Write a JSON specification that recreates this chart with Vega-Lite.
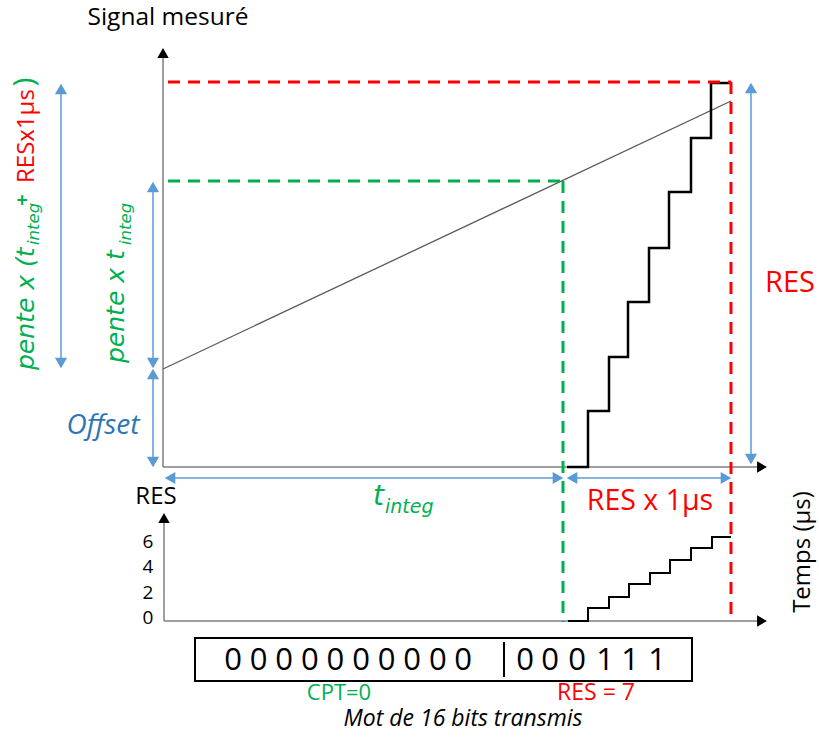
{
  "$schema": "https://vega.github.io/schema/vega-lite/v6.json",
  "width": 819,
  "height": 740,
  "padding": 0,
  "autosize": {"type": "none"},
  "config": {"view": {"stroke": null}, "font": "Open Sans"},
  "datasets": {
    "axes": [
      {"x": 163, "y": 467, "x2": 163, "y2": 56},
      {"x": 163, "y": 467, "x2": 760, "y2": 467},
      {"x": 164, "y": 621, "x2": 164, "y2": 520},
      {"x": 164, "y": 621, "x2": 760, "y2": 621}
    ],
    "blackUp": [{"x": 163, "y": 53}, {"x": 164, "y": 518}],
    "blackRight": [{"x": 762, "y": 467}, {"x": 762, "y": 621}],
    "redDash": [
      {"x": 168, "y": 82, "x2": 731, "y2": 82},
      {"x": 731, "y": 82, "x2": 731, "y2": 619}
    ],
    "greenDash": [
      {"x": 168, "y": 181, "x2": 563, "y2": 181},
      {"x": 563, "y": 181, "x2": 563, "y2": 622}
    ],
    "ramp": [{"x": 163, "y": 369, "x2": 731, "y2": 101}],
    "blueLines": [
      {"x": 61, "y": 88, "x2": 61, "y2": 364},
      {"x": 153, "y": 186, "x2": 153, "y2": 364},
      {"x": 153, "y": 374, "x2": 153, "y2": 463},
      {"x": 169, "y": 478, "x2": 559, "y2": 478},
      {"x": 571, "y": 478, "x2": 727, "y2": 478},
      {"x": 751, "y": 88, "x2": 751, "y2": 460}
    ],
    "blueUp": [{"x": 61, "y": 89}, {"x": 153, "y": 187}, {"x": 153, "y": 374}, {"x": 751, "y": 88}],
    "blueDown": [{"x": 61, "y": 363}, {"x": 153, "y": 363}, {"x": 153, "y": 462}, {"x": 751, "y": 459}],
    "blueLeft": [{"x": 170, "y": 478}, {"x": 572, "y": 478}],
    "blueRight": [{"x": 558, "y": 478}, {"x": 726, "y": 478}],
    "stairsMain": [
      {"i": 0, "x": 567, "y": 467}, {"i": 1, "x": 588, "y": 467},
      {"i": 2, "x": 588, "y": 411}, {"i": 3, "x": 609, "y": 411},
      {"i": 4, "x": 609, "y": 357}, {"i": 5, "x": 628, "y": 357},
      {"i": 6, "x": 628, "y": 302}, {"i": 7, "x": 649, "y": 302},
      {"i": 8, "x": 649, "y": 248}, {"i": 9, "x": 669, "y": 248},
      {"i": 10, "x": 669, "y": 192}, {"i": 11, "x": 691, "y": 192},
      {"i": 12, "x": 691, "y": 138}, {"i": 13, "x": 711, "y": 138},
      {"i": 14, "x": 711, "y": 83}, {"i": 15, "x": 732, "y": 83}
    ],
    "stairsLow": [
      {"i": 0, "x": 568, "y": 621}, {"i": 1, "x": 588, "y": 621},
      {"i": 2, "x": 588, "y": 608}, {"i": 3, "x": 609, "y": 608},
      {"i": 4, "x": 609, "y": 597}, {"i": 5, "x": 629, "y": 597},
      {"i": 6, "x": 629, "y": 584}, {"i": 7, "x": 650, "y": 584},
      {"i": 8, "x": 650, "y": 573}, {"i": 9, "x": 670, "y": 573},
      {"i": 10, "x": 670, "y": 560}, {"i": 11, "x": 691, "y": 560},
      {"i": 12, "x": 691, "y": 548}, {"i": 13, "x": 712, "y": 548},
      {"i": 14, "x": 712, "y": 537}, {"i": 15, "x": 731, "y": 537}
    ],
    "box": [{"x": 195, "y": 638, "x2": 692, "y2": 681}],
    "divider": [{"x": 504, "y": 642, "x2": 504, "y2": 677}],
    "digits": [
      {"x": 233, "y": 661, "label": "0"}, {"x": 258.6, "y": 661, "label": "0"},
      {"x": 284.2, "y": 661, "label": "0"}, {"x": 309.8, "y": 661, "label": "0"},
      {"x": 335.4, "y": 661, "label": "0"}, {"x": 361, "y": 661, "label": "0"},
      {"x": 386.6, "y": 661, "label": "0"}, {"x": 412.2, "y": 661, "label": "0"},
      {"x": 437.8, "y": 661, "label": "0"}, {"x": 463, "y": 661, "label": "0"},
      {"x": 525, "y": 661, "label": "0"}, {"x": 550, "y": 661, "label": "0"},
      {"x": 577, "y": 661, "label": "0"}, {"x": 605, "y": 661, "label": "1"},
      {"x": 630, "y": 661, "label": "1"}, {"x": 657, "y": 661, "label": "1"}
    ],
    "signalText": [{"x": 168, "y": 18, "label": "Signal mesuré"}],
    "resLow": [{"x": 156, "y": 497, "label": "RES"}],
    "ticks": [
      {"x": 148, "y": 542, "label": "6"}, {"x": 148, "y": 567, "label": "4"},
      {"x": 148, "y": 593, "label": "2"}, {"x": 148, "y": 618, "label": "0"}
    ],
    "tempsText": [{"x": 803, "y": 552, "label": "Temps (µs)"}],
    "redBig": [{"x": 790, "y": 283, "label": "RES"}],
    "redMid": [{"x": 650, "y": 501, "label": "RES x 1µs"}],
    "redSmall": [{"x": 596, "y": 693, "label": "RES = 7"}],
    "greenSmall": [{"x": 339, "y": 693, "label": "CPT=0"}],
    "offsetText": [{"x": 103, "y": 426, "label": "Offset"}],
    "motText": [{"x": 463, "y": 719, "label": "Mot de 16 bits transmis"}],
    "tBig": [{"x": 373, "y": 505, "label": "t"}],
    "tSub": [{"x": 385, "y": 513, "label": "integ"}],
    "rotGreenMain": [
      {"x": 34, "y": 370, "label": "pente x (t"},
      {"x": 124, "y": 363, "label": "pente x t"}
    ],
    "rotGreenSub": [
      {"x": 39, "y": 245, "label": "integ"},
      {"x": 131, "y": 245, "label": "integ"}
    ],
    "rotGreenSup": [{"x": 23, "y": 200, "label": "+"}],
    "rotParen": [{"x": 25, "y": 82, "label": ")"}],
    "rotRed": [{"x": 34, "y": 183, "label": "RESx1µs"}]
  },
  "encoding": {
    "x": {"field": "x", "type": "quantitative", "scale": {"domain": [0, 819], "nice": false, "zero": false}, "axis": null},
    "y": {"field": "y", "type": "quantitative", "scale": {"domain": [0, 740], "nice": false, "zero": false, "reverse": true}, "axis": null}
  },
  "layer": [
    {"data": {"name": "axes"}, "mark": {"type": "rule", "color": "#7f7f7f", "strokeWidth": 1.5},
     "encoding": {"x2": {"field": "x2"}, "y2": {"field": "y2"}}},
    {"data": {"name": "blackUp"}, "mark": {"type": "point", "shape": "triangle-up", "filled": true, "color": "#000000", "size": 130, "opacity": 1}},
    {"data": {"name": "blackRight"}, "mark": {"type": "point", "shape": "triangle-right", "filled": true, "color": "#000000", "size": 130, "opacity": 1}},
    {"data": {"name": "ramp"}, "mark": {"type": "rule", "color": "#595959", "strokeWidth": 1.3},
     "encoding": {"x2": {"field": "x2"}, "y2": {"field": "y2"}}},
    {"data": {"name": "greenDash"}, "mark": {"type": "rule", "color": "#00b050", "strokeWidth": 3, "strokeDash": [12, 8]},
     "encoding": {"x2": {"field": "x2"}, "y2": {"field": "y2"}}},
    {"data": {"name": "stairsMain"}, "mark": {"type": "line", "color": "#000000", "strokeWidth": 2.5, "strokeJoin": "miter"},
     "encoding": {"order": {"field": "i", "type": "quantitative"}}},
    {"data": {"name": "stairsLow"}, "mark": {"type": "line", "color": "#000000", "strokeWidth": 2, "strokeJoin": "miter"},
     "encoding": {"order": {"field": "i", "type": "quantitative"}}},
    {"data": {"name": "redDash"}, "mark": {"type": "rule", "color": "#ff0000", "strokeWidth": 3, "strokeDash": [12, 8]},
     "encoding": {"x2": {"field": "x2"}, "y2": {"field": "y2"}}},
    {"data": {"name": "blueLines"}, "mark": {"type": "rule", "color": "#5b9bd5", "strokeWidth": 1.5},
     "encoding": {"x2": {"field": "x2"}, "y2": {"field": "y2"}}},
    {"data": {"name": "blueUp"}, "mark": {"type": "point", "shape": "triangle-up", "filled": true, "color": "#5b9bd5", "size": 150, "opacity": 1}},
    {"data": {"name": "blueDown"}, "mark": {"type": "point", "shape": "triangle-down", "filled": true, "color": "#5b9bd5", "size": 150, "opacity": 1}},
    {"data": {"name": "blueLeft"}, "mark": {"type": "point", "shape": "triangle-left", "filled": true, "color": "#5b9bd5", "size": 150, "opacity": 1}},
    {"data": {"name": "blueRight"}, "mark": {"type": "point", "shape": "triangle-right", "filled": true, "color": "#5b9bd5", "size": 150, "opacity": 1}},
    {"data": {"name": "box"}, "mark": {"type": "rect", "fill": null, "fillOpacity": 0, "stroke": "#000000", "strokeWidth": 2},
     "encoding": {"x2": {"field": "x2"}, "y2": {"field": "y2"}}},
    {"data": {"name": "divider"}, "mark": {"type": "rule", "color": "#000000", "strokeWidth": 2},
     "encoding": {"x2": {"field": "x2"}, "y2": {"field": "y2"}}},
    {"data": {"name": "digits"}, "mark": {"type": "text", "fontSize": 31, "color": "#000000", "align": "center", "baseline": "middle"},
     "encoding": {"text": {"field": "label"}}},
    {"data": {"name": "signalText"}, "mark": {"type": "text", "fontSize": 24.5, "color": "#000000", "align": "center", "baseline": "middle"},
     "encoding": {"text": {"field": "label"}}},
    {"data": {"name": "resLow"}, "mark": {"type": "text", "fontSize": 24, "color": "#000000", "align": "center", "baseline": "middle"},
     "encoding": {"text": {"field": "label"}}},
    {"data": {"name": "ticks"}, "mark": {"type": "text", "fontSize": 19, "color": "#000000", "align": "center", "baseline": "middle"},
     "encoding": {"text": {"field": "label"}}},
    {"data": {"name": "tempsText"}, "mark": {"type": "text", "fontSize": 24, "color": "#000000", "align": "center", "baseline": "middle", "angle": 270},
     "encoding": {"text": {"field": "label"}}},
    {"data": {"name": "redBig"}, "mark": {"type": "text", "fontSize": 29, "color": "#ff0000", "align": "center", "baseline": "middle"},
     "encoding": {"text": {"field": "label"}}},
    {"data": {"name": "redMid"}, "mark": {"type": "text", "fontSize": 28.5, "color": "#ff0000", "align": "center", "baseline": "middle"},
     "encoding": {"text": {"field": "label"}}},
    {"data": {"name": "redSmall"}, "mark": {"type": "text", "fontSize": 23, "color": "#ff0000", "align": "center", "baseline": "middle"},
     "encoding": {"text": {"field": "label"}}},
    {"data": {"name": "greenSmall"}, "mark": {"type": "text", "fontSize": 22, "color": "#00b050", "align": "center", "baseline": "middle"},
     "encoding": {"text": {"field": "label"}}},
    {"data": {"name": "offsetText"}, "mark": {"type": "text", "fontSize": 28, "fontStyle": "italic", "color": "#2e75b6", "align": "center", "baseline": "middle"},
     "encoding": {"text": {"field": "label"}}},
    {"data": {"name": "motText"}, "mark": {"type": "text", "fontSize": 23, "fontStyle": "italic", "color": "#000000", "align": "center", "baseline": "middle"},
     "encoding": {"text": {"field": "label"}}},
    {"data": {"name": "tBig"}, "mark": {"type": "text", "font": "DejaVu Sans", "fontSize": 28, "fontStyle": "italic", "color": "#00b050", "align": "left", "baseline": "alphabetic"},
     "encoding": {"text": {"field": "label"}}},
    {"data": {"name": "tSub"}, "mark": {"type": "text", "font": "DejaVu Sans", "fontSize": 19, "fontStyle": "italic", "color": "#00b050", "align": "left", "baseline": "alphabetic"},
     "encoding": {"text": {"field": "label"}}},
    {"data": {"name": "rotGreenMain"}, "mark": {"type": "text", "font": "DejaVu Sans", "fontSize": 25, "fontStyle": "italic", "color": "#00b050", "align": "left", "baseline": "alphabetic", "angle": 270},
     "encoding": {"text": {"field": "label"}}},
    {"data": {"name": "rotGreenSub"}, "mark": {"type": "text", "font": "DejaVu Sans", "fontSize": 16.5, "fontStyle": "italic", "color": "#00b050", "align": "left", "baseline": "alphabetic", "angle": 270},
     "encoding": {"text": {"field": "label"}}},
    {"data": {"name": "rotGreenSup"}, "mark": {"type": "text", "fontSize": 20, "fontWeight": "bold", "color": "#00b050", "align": "center", "baseline": "middle", "angle": 270},
     "encoding": {"text": {"field": "label"}}},
    {"data": {"name": "rotParen"}, "mark": {"type": "text", "fontSize": 30, "color": "#00b050", "align": "center", "baseline": "middle", "angle": 270},
     "encoding": {"text": {"field": "label"}}},
    {"data": {"name": "rotRed"}, "mark": {"type": "text", "fontSize": 24, "color": "#ff0000", "align": "left", "baseline": "alphabetic", "angle": 270},
     "encoding": {"text": {"field": "label"}}}
  ]
}
